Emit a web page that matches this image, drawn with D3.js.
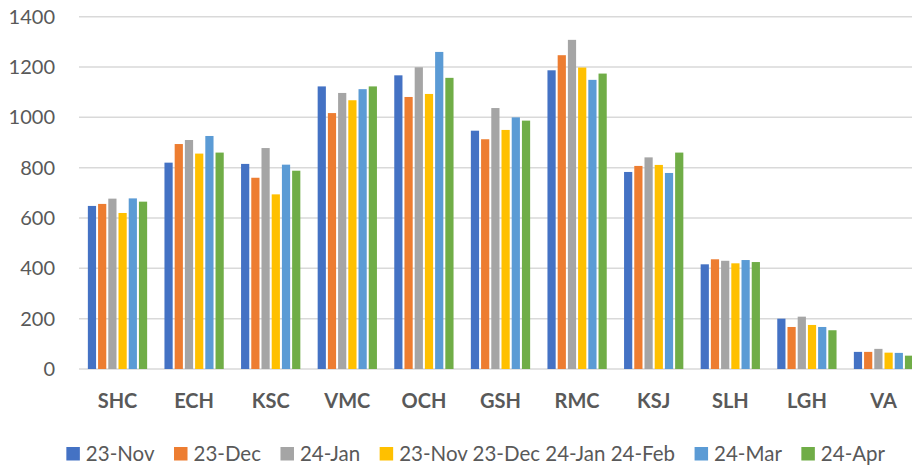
<!DOCTYPE html>
<html>
<head>
<meta charset="utf-8">
<script src="https://cdn.jsdelivr.net/npm/d3@7"></script>
<style>
  body { margin: 0; background: #fff; }
  svg { display: block; font-family: Lato, "Open Sans", sans-serif; }
</style>
</head>
<body>
<div class="chart"></div>
<script>
var categories = ["SHC", "ECH", "KSC", "VMC", "OCH", "GSH", "RMC", "KSJ", "SLH", "LGH", "VA"];
var seriesNames = ["23-Nov", "23-Dec", "24-Jan", "23-Nov 23-Dec 24-Jan 24-Feb", "24-Mar", "24-Apr"];
var nov23 = [648, 820, 815, 1123, 1167, 947, 1187, 783, 416, 200, 68];
var dec23 = [656, 894, 760, 1017, 1081, 913, 1247, 807, 436, 167, 68];
var jan24 = [677, 910, 878, 1097, 1199, 1037, 1308, 841, 430, 208, 80];
var feb24 = [620, 856, 694, 1068, 1093, 950, 1198, 811, 420, 175, 65];
var mar24 = [678, 926, 812, 1112, 1260, 1000, 1149, 779, 433, 167, 64];
var apr24 = [665, 860, 788, 1123, 1157, 987, 1174, 860, 425, 154, 53];
var yTicks = [0, 200, 400, 600, 800, 1000, 1200, 1400];

var color = ["#4472C4", "#ED7D31", "#A5A5A5", "#FFC000", "#5B9BD5", "#70AD47"];
var allSeries = [nov23, dec23, jan24, feb24, mar24, apr24];

var width = 912, height = 468;

var canvas = d3.select(".chart")
               .append("svg")
               .attr("width", width)
               .attr("height", height);

// plot runs a little past the right edge, like the original crop
var x0 = d3.scaleBand().domain(categories).range([79.2, 921.8]).paddingInner(0.2).paddingOuter(0.1);
var x1 = d3.scaleBand().domain(d3.range(seriesNames.length)).range([0, x0.bandwidth()]);
var y = d3.scaleLinear().domain([0, 1400]).range([369, 16.7]);

// gridlines
canvas.append("g")
      .selectAll("line")
      .data(yTicks)
      .enter()
      .append("line")
      .attr("x1", 79)
      .attr("x2", width)
      .attr("y1", function(d) { return y(d); })
      .attr("y2", function(d) { return y(d); })
      .attr("stroke", "#D9D9D9")
      .attr("stroke-width", 1.5);

// y labels
var yAxis = canvas.append("g")
                  .attr("transform", "translate(55,0)")
                  .call(d3.axisLeft(y).tickValues(yTicks).tickFormat(d3.format("d")).tickSize(0).tickPadding(0));
yAxis.select(".domain").remove();
yAxis.selectAll("text")
     .attr("fill", "#595959")
     .style("font-size", "20px")
     .style("font-family", "Lato, 'Open Sans', sans-serif");

// bars
var groups = canvas.append("g")
                   .selectAll("g")
                   .data(categories)
                   .enter()
                   .append("g")
                   .attr("transform", function(d) { return "translate(" + x0(d) + ",0)"; });

groups.selectAll("rect")
      .data(function(d, i) { return allSeries.map(function(s, j) { return { s: j, v: s[i] }; }); })
      .enter()
      .append("rect")
      .attr("x", function(d) { return x1(d.s) + 1; })
      .attr("width", x1.bandwidth() - 2)
      .attr("y", function(d) { return y(d.v); })
      .attr("height", function(d) { return y(0) - y(d.v); })
      .attr("fill", function(d) { return color[d.s]; });

// x labels
var xAxis = canvas.append("g")
                  .attr("transform", "translate(0,369)")
                  .call(d3.axisBottom(x0).tickSize(0).tickPadding(0));
xAxis.select(".domain").remove();
xAxis.selectAll("text")
     .attr("y", 39)
     .attr("dy", 0)
     .attr("fill", "#595959")
     .style("font-size", "20px")
     .style("font-weight", "bold")
     .style("font-family", "Lato, 'Open Sans', sans-serif");

// legend
var legend = canvas.append("g");
var items = legend.selectAll("g")
                  .data(seriesNames)
                  .enter()
                  .append("g");
items.append("rect")
     .attr("width", 13.5)
     .attr("height", 13.5)
     .attr("y", 447)
     .attr("fill", function(d, i) { return color[i]; });
items.append("text")
     .text(function(d) { return d; })
     .attr("x", 19.5)
     .attr("y", 460.7)
     .attr("fill", "#595959")
     .style("font-size", "20.5px");

var total = 0;
var offsets = [];
items.each(function() {
  offsets.push(total);
  var w = 19.5 + d3.select(this).select("text").node().getComputedTextLength();
  total += w + 19.5;
});
total -= 19.5;
var start = 475.7 - total / 2;
items.attr("transform", function(d, i) { return "translate(" + (start + offsets[i]) + ",0)"; });
</script>
</body>
</html>
